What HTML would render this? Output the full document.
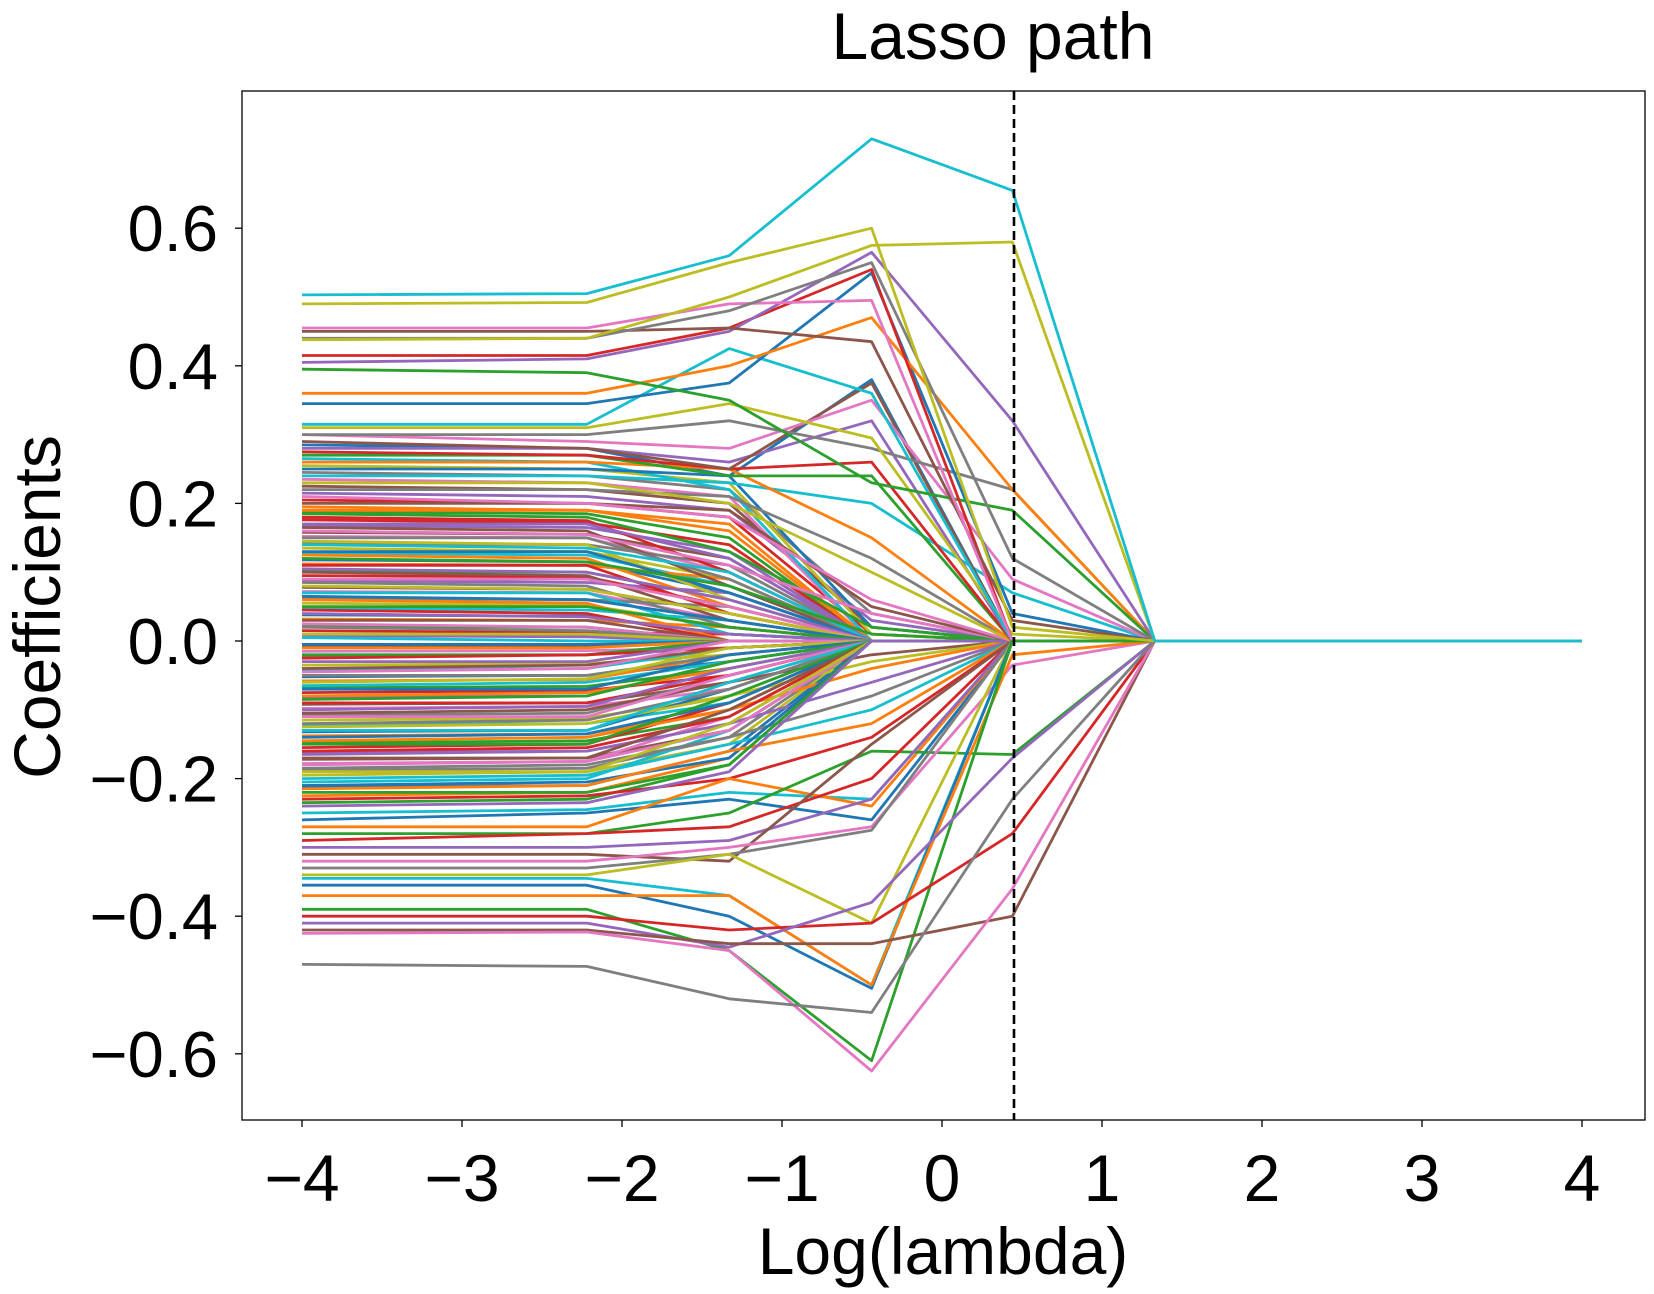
<!DOCTYPE html>
<html><head><meta charset="utf-8"><style>
html,body{margin:0;padding:0;background:#fff;}
svg{display:block;font-family:"Liberation Sans",Arial,sans-serif;}
</style></head><body>
<svg id="chart" width="1654" height="1294" viewBox="0 0 1654 1294">
<rect width="1654" height="1294" fill="#fff"/>
<text x="993" y="59" font-size="66" text-anchor="middle">Lasso path</text>
<g id="lines"></g>
<g id="axes"></g>
<text x="943" y="1274" font-size="66" text-anchor="middle">Log(lambda)</text>
<text transform="translate(60,607) rotate(-90)" font-size="66" text-anchor="middle">Coefficients</text>
</svg>
<script>
const xNodes = [-4, -2.22, -1.33, -0.44, 0.44, 1.33, 4];
const xTicks = [-4, -3, -2, -1, 0, 1, 2, 3, 4];
const yTicks = [-0.6, -0.4, -0.2, 0.0, 0.2, 0.4, 0.6];
const yTickLabels = ["\u22120.6", "\u22120.4", "\u22120.2", "0.0", "0.2", "0.4", "0.6"];
const xTickLabels = ["\u22124", "\u22123", "\u22122", "\u22121", "0", "1", "2", "3", "4"];
const selectedLogLambda = 0.45;
const coefs = [
[0.195,0.19,0.17,0,0,0,0],[0.188,0.185,0.15,0,0,0,0],[0.176,0.172,0.14,0,0,0,0],[0.168,0.165,0.13,0,0,0,0],
[0.158,0.155,0.12,0,0,0,0],[0.152,0.15,0.10,0,0,0,0],[0.142,0.14,0.11,0,0,0,0],[0.135,0.13,0.09,0,0,0,0],
[0.128,0.125,0.08,0,0,0,0],[0.118,0.115,0.07,0,0,0,0],[0.112,0.11,0.09,0,0,0,0],[0.102,0.10,0.06,0,0,0,0],
[0.095,0.093,0.05,0,0,0,0],[0.088,0.085,0.07,0,0,0,0],[0.078,0.075,0.04,0,0,0,0],[0.072,0.07,0.03,0,0,0,0],
[0.062,0.06,0.05,0,0,0,0],[0.055,0.052,0.02,0,0,0,0],[0.048,0.045,0.03,0,0,0,0],[0.038,0.036,0.01,0,0,0,0],
[0.032,0.03,0.02,0,0,0,0],[0.022,0.02,0.0,0,0,0,0],[0.015,0.012,0.01,0,0,0,0],[0.008,0.006,0.0,0,0,0,0],
[-0.008,-0.008,0.0,0,0,0,0],[-0.015,-0.014,-0.01,0,0,0,0],[-0.022,-0.02,0.0,0,0,0,0],[-0.035,-0.033,-0.02,0,0,0,0],
[-0.042,-0.04,-0.01,0,0,0,0],[-0.052,-0.05,-0.03,0,0,0,0],[-0.058,-0.056,-0.02,0,0,0,0],[-0.068,-0.066,-0.04,0,0,0,0],
[-0.075,-0.072,-0.05,0,0,0,0],[-0.082,-0.08,-0.03,0,0,0,0],[-0.092,-0.09,-0.06,0,0,0,0],[-0.098,-0.095,-0.07,0,0,0,0],
[-0.108,-0.105,-0.05,0,0,0,0],[-0.115,-0.112,-0.08,0,0,0,0],[-0.122,-0.12,-0.09,0,0,0,0],[-0.132,-0.13,-0.07,0,0,0,0],
[-0.138,-0.135,-0.10,0,0,0,0],[-0.148,-0.145,-0.11,0,0,0,0],[-0.155,-0.15,-0.09,0,0,0,0],[-0.162,-0.16,-0.12,0,0,0,0],
[-0.172,-0.17,-0.13,0,0,0,0],[-0.178,-0.175,-0.11,0,0,0,0],[-0.188,-0.185,-0.14,0,0,0,0],[-0.195,-0.19,-0.15,0,0,0,0],
[-0.205,-0.20,-0.13,0,0,0,0],[-0.212,-0.21,-0.16,0,0,0,0],[-0.225,-0.22,-0.17,0,0,0,0],[-0.235,-0.23,-0.18,0,0,0,0],
[0.205,0.20,0.18,0.01,0,0,0],[0.215,0.21,0.19,0.03,0,0,0],[0.225,0.22,0.20,0.02,0,0,0],[0.235,0.23,0.21,0.0,0,0,0],
[0.245,0.24,0.22,0.04,0,0,0],[0.255,0.25,0.23,0.01,0,0,0],[0.265,0.26,0.22,0.0,0,0,0],[0.285,0.28,0.24,0.02,0,0,0],
[0.19,0.19,0.16,0.0,0,0,0],[0.185,0.18,0.13,0.02,0,0,0],[0.18,0.175,0.10,0,0,0,0],[0.17,0.17,0.12,0,0,0,0],
[0.165,0.16,0.08,0,0,0,0],[0.16,0.155,0.11,0.04,0,0,0],[0.15,0.15,0.09,0,0,0,0],[0.145,0.14,0.06,0,0,0,0],
[0.14,0.135,0.10,0,0,0,0],[0.13,0.13,0.07,0,0,0,0],[0.125,0.12,0.05,0,0,0,0],[0.12,0.115,0.08,0.01,0,0,0],
[0.11,0.11,0.04,0,0,0,0],[0.105,0.10,0.06,0,0,0,0],[0.10,0.095,0.03,0,0,0,0],[0.09,0.09,0.05,0,0,0,0],
[0.085,0.08,0.02,0,0,0,0],[0.08,0.075,0.04,0,0,0,0],[0.07,0.07,0.01,0,0,0,0],[0.065,0.06,0.03,0,0,0,0],
[0.06,0.055,0.0,0,0,0,0],[0.05,0.05,0.02,0,0,0,0],[0.045,0.04,0.0,0,0,0,0],[0.04,0.035,0.01,0,0,0,0],
[0.03,0.03,0.0,0,0,0,0],[0.025,0.02,0.0,0,0,0,0],[0.02,0.015,0.0,0,0,0,0],[0.01,0.01,0.0,0,0,0,0],
[0.005,0.0,0.0,0,0,0,0],[-0.005,-0.005,0.0,0,0,0,0],[-0.01,-0.01,0.0,0,0,0,0],[-0.02,-0.02,0.0,0,0,0,0],
[-0.025,-0.02,-0.01,0,0,0,0],[-0.03,-0.03,0.0,0,0,0,0],[-0.04,-0.035,-0.01,0,0,0,0],[-0.045,-0.04,0.0,0,0,0,0],
[-0.05,-0.05,-0.02,0,0,0,0],[-0.06,-0.055,-0.01,0,0,0,0],[-0.065,-0.06,-0.03,0,0,0,0],[-0.07,-0.07,-0.02,0,0,0,0],
[-0.08,-0.075,-0.04,0,0,0,0],[-0.085,-0.08,-0.03,0,0,0,0],[-0.09,-0.09,-0.05,0,0,0,0],[-0.10,-0.095,-0.04,0,0,0,0],
[-0.105,-0.10,-0.06,-0.02,0,0,0],[-0.11,-0.11,-0.05,0,0,0,0],[-0.12,-0.115,-0.07,0,0,0,0],[-0.125,-0.12,-0.08,-0.03,0,0,0],
[-0.13,-0.13,-0.06,0,0,0,0],[-0.14,-0.135,-0.09,0,0,0,0],[-0.145,-0.14,-0.10,-0.04,0,0,0],[-0.15,-0.15,-0.08,0,0,0,0],
[-0.16,-0.155,-0.11,0,0,0,0],[-0.165,-0.16,-0.12,-0.06,0,0,0],[-0.17,-0.17,-0.10,0,0,0,0],[-0.18,-0.175,-0.13,0,0,0,0],
[-0.185,-0.18,-0.14,-0.08,0,0,0],[-0.19,-0.19,-0.12,0,0,0,0],[-0.20,-0.195,-0.15,-0.10,0,0,0],[-0.21,-0.205,-0.17,0,0,0,0],
[-0.215,-0.21,-0.16,-0.12,0,0,0],[-0.22,-0.22,-0.18,0,0,0,0],[-0.23,-0.225,-0.20,-0.14,0,0,0],[-0.24,-0.235,-0.19,0,0,0,0],
[0.20,0.20,0.19,0.05,0,0,0],[0.21,0.20,0.18,0.06,0,0,0],[0.22,0.22,0.21,0.12,0,0,0],[0.23,0.23,0.20,0.10,0,0,0],
[0.24,0.24,0.23,0.20,0.07,0,0],[0.25,0.25,0.24,0.38,0.0,0,0],[0.26,0.26,0.25,0.15,0.0,0,0],[0.27,0.27,0.24,0.24,0.0,0,0],
[0.275,0.27,0.25,0.26,0.0,0,0],[0.28,0.28,0.26,0.32,0,0,0],[0.29,0.28,0.25,0.375,0.0,0,0],[0.30,0.29,0.28,0.35,0.09,0,0],
[0.30,0.30,0.32,0.28,0.22,0,0],[0.31,0.31,0.345,0.295,0.01,0,0],[0.315,0.315,0.425,0.36,0,0,0],[0.345,0.345,0.375,0.535,0.04,0,0],
[0.36,0.36,0.40,0.47,0.22,0,0],[0.395,0.39,0.35,0.23,0.19,0,0],[0.415,0.415,0.455,0.54,0.0,0,0],[0.405,0.41,0.45,0.565,0.32,0,0],
[0.45,0.45,0.455,0.435,0.03,0,0],[0.455,0.455,0.49,0.495,0.0,0,0],[0.44,0.44,0.48,0.55,0.12,0,0],[0.438,0.44,0.50,0.575,0.58,0,0],
[-0.25,-0.245,-0.22,-0.23,0,0,0],[-0.26,-0.25,-0.23,-0.26,0,0,0],[-0.27,-0.27,-0.20,-0.24,0,0,0],[-0.28,-0.28,-0.25,-0.16,-0.165,0,0],
[-0.29,-0.28,-0.27,-0.20,0,0,0],[-0.30,-0.30,-0.29,-0.23,0,0,0],[-0.31,-0.31,-0.32,-0.15,0,0,0],[-0.32,-0.32,-0.30,-0.27,-0.035,0,0],
[-0.33,-0.33,-0.31,-0.275,0,0,0],[-0.34,-0.34,-0.31,-0.41,0,0,0],[-0.345,-0.345,-0.37,-0.50,0,0,0],[-0.355,-0.355,-0.40,-0.505,0,0,0],
[-0.37,-0.37,-0.37,-0.50,-0.02,0,0],[-0.39,-0.39,-0.45,-0.61,0,0,0],[-0.40,-0.40,-0.42,-0.41,-0.28,0,0],[-0.41,-0.41,-0.445,-0.38,-0.17,0,0],
[-0.42,-0.42,-0.44,-0.44,-0.40,0,0],[-0.425,-0.423,-0.45,-0.625,-0.36,0,0],[-0.47,-0.473,-0.52,-0.54,-0.23,0,0],
[0.49,0.492,0.55,0.60,0.02,0,0],[0.503,0.505,0.56,0.73,0.655,0,0]
];
const palette = ["#1f77b4","#ff7f0e","#2ca02c","#d62728","#9467bd","#8c564b","#e377c2","#7f7f7f","#bcbd22","#17becf"];
const L=242,T=91,R=1645,B=1120;
function X(v){return 302+160*(v+4);}
function Y(v){return 641-688*v;}
const NS="http://www.w3.org/2000/svg";
const lines=document.getElementById('lines');
const n=coefs.length;
coefs.forEach((row,i)=>{
  const p=document.createElementNS(NS,'polyline');
  p.setAttribute('points',row.map((v,j)=>X(xNodes[j]).toFixed(1)+','+Y(v).toFixed(1)).join(' '));
  p.setAttribute('fill','none');
  p.setAttribute('stroke',palette[9-((n-1-i)%10)]);
  p.setAttribute('stroke-width','2.8');
  p.setAttribute('stroke-linejoin','round');
  
  
  lines.appendChild(p);
});
const axes=document.getElementById('axes');
function add(tag,attrs,text){const e=document.createElementNS(NS,tag);for(const k in attrs)e.setAttribute(k,attrs[k]);if(text!==undefined)e.textContent=text;axes.appendChild(e);return e;}
const vl=add('line',{x1:X(selectedLogLambda),x2:X(selectedLogLambda),y1:T,y2:B,stroke:'#000','stroke-width':2.6,'stroke-dasharray':'9,5'});


const fr=add('rect',{x:L,y:T,width:R-L,height:B-T,fill:'none',stroke:'#000','stroke-width':1.3});


xTicks.forEach((v,i)=>{
  const t=add('line',{x1:X(v),x2:X(v),y1:B,y2:B+7,stroke:'#000','stroke-width':1.3});
  
  
  const s=add('text',{x:X(v),y:1201,'font-size':66,'text-anchor':'middle'},xTickLabels[i]);
  
  
});
yTicks.forEach((v,i)=>{
  const t=add('line',{x1:L-7,x2:L,y1:Y(v),y2:Y(v),stroke:'#000','stroke-width':1.3});
  
  
  const s=add('text',{x:218,y:Y(v)+23,'font-size':65,'text-anchor':'end'},yTickLabels[i]);
  
  
});
</script>
</body></html>
